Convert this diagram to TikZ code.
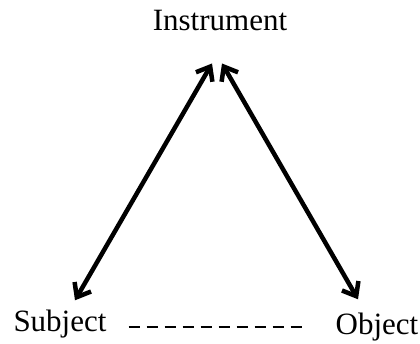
\documentclass[tikz,border=0pt]{standalone}
\usepackage{fontspec}
\setmainfont{Liberation Serif}
\usetikzlibrary{arrows.meta}
\begin{document}
\begin{tikzpicture}[x=1pt,y=1pt,
  label/.style={inner sep=0pt, anchor=base, font=\fontsize{31}{36}\selectfont},
  link/.style={line width=4.5pt, >={Straight Barb[length=12pt,width=19pt,line width=4.5pt]}, <->},
  relation/.style={line width=2.8pt, dash pattern=on 11pt off 7pt}]
  \path[use as bounding box] (0,0) rectangle (420,344);
  \node[label] (inst) at (220,313) {Instrument};
  \node[label] (subj) at (60,12) {Subject};
  \node[label] (obj) at (377,9) {Object};
  % two-way arrows between the instrument and the other two nodes
  \draw[link] ([shift={(-8pt,-32pt)}]inst.south) -- ([shift={(15pt,10pt)}]subj.north);
  \draw[link] ([shift={(2pt,-32pt)}]inst.south) -- ([shift={(-19pt,14pt)}]obj.north);
  % dashed relation between subject and object
  \draw[relation] ([shift={(22pt,5pt)}]subj.base east) -- ([shift={(-33pt,8pt)}]obj.base west);
\end{tikzpicture}
\end{document}
